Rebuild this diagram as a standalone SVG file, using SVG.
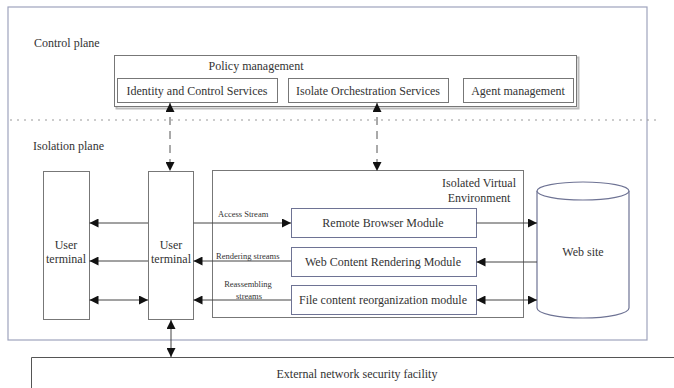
<svg xmlns="http://www.w3.org/2000/svg" width="674" height="388" viewBox="0 0 674 388">
<defs>
<marker id="ah" viewBox="0 0 10 10" refX="10" refY="5" markerWidth="10" markerHeight="9" markerUnits="userSpaceOnUse" orient="auto-start-reverse">
<path d="M0,0 L10,5 L0,10 Z" fill="#111"/>
</marker>
</defs>
<style>
text{font-family:"Liberation Serif","Times New Roman",serif;fill:#333;font-size:12px}
.sm{font-size:8.5px}
.c{text-anchor:middle}
.box{fill:#fff;stroke:#777;stroke-width:1}
.mod{fill:#fff;stroke:#6e7394;stroke-width:1}
.frame{fill:none;stroke:#9ea3bd;stroke-width:1.2}
.ln{fill:none;stroke:#444;stroke-width:1}
.dash{fill:none;stroke:#555;stroke-width:1;stroke-dasharray:8 6}
</style>
<rect width="674" height="388" fill="#fff"/>
<rect class="frame" x="8" y="7" width="639" height="333"/>
<line x1="10" y1="120" x2="656" y2="120" stroke="#999" stroke-width="1" stroke-dasharray="2 5"/>
<text x="34" y="47">Control plane</text>
<text x="33" y="150">Isolation plane</text>

<g id="policy">
<rect x="115.5" y="56.5" width="462" height="51" fill="none" stroke="#bbb" stroke-width="2" transform="translate(1,1)"/>
<rect class="box" x="114.5" y="55.5" width="462" height="51"/>
<text class="c" x="256" y="70">Policy management</text>
</g>
<g id="identity">
<rect class="box" x="117.5" y="78.5" width="160" height="24"/>
<text class="c" x="197" y="95">Identity and Control Services</text>
</g>
<g id="orchestration">
<rect class="box" x="288.5" y="78.5" width="160" height="24"/>
<text class="c" x="368" y="95">Isolate Orchestration Services</text>
</g>
<g id="agent">
<rect class="box" x="463.5" y="78.5" width="110" height="24"/>
<text class="c" x="518" y="95">Agent management</text>
</g>

<g id="terminal1">
<rect class="box" x="43.5" y="171.5" width="46" height="148"/>
<text class="c" x="66" y="249">User</text>
<text class="c" x="66" y="263">terminal</text>
</g>
<g id="terminal2">
<rect class="box" x="148.5" y="171.5" width="45" height="148"/>
<text class="c" x="171" y="249">User</text>
<text class="c" x="171" y="263">terminal</text>
</g>
<g id="ive">
<rect class="box" x="212.5" y="170.5" width="311" height="147"/>
<text class="c" x="479" y="187">Isolated Virtual</text>
<text class="c" x="479" y="202">Environment</text>
</g>
<g id="remote">
<rect class="mod" x="291.5" y="208.5" width="185" height="29"/>
<text class="c" x="383" y="227">Remote Browser Module</text>
</g>
<g id="rendering">
<rect class="mod" x="291.5" y="247.5" width="185" height="29"/>
<text class="c" x="383" y="266">Web Content Rendering Module</text>
</g>
<g id="file">
<rect class="mod" x="291.5" y="285.5" width="185" height="29"/>
<text class="c" x="383" y="304">File content reorganization module</text>
</g>
<g id="website">
<path d="M537,191 L537,308 A46,10 0 0 0 629,308 L629,191" fill="#fff" stroke="#6e7394" stroke-width="1.2"/>
<ellipse cx="583" cy="191" rx="46" ry="9" fill="#fff" stroke="#6e7394" stroke-width="1.2"/>
<text class="c" x="583" y="256">Web site</text>
</g>
<g id="external">
<path d="M31.5,388 L31.5,357.5 L674,357.5" fill="none" stroke="#555" stroke-width="1"/>
<text class="c" x="357" y="378">External network security facility</text>
</g>

<g id="connectors">
<line class="dash" x1="170" y1="103" x2="170" y2="171" marker-start="url(#ah)" marker-end="url(#ah)"/>
<line class="dash" x1="377" y1="103" x2="377" y2="171" marker-start="url(#ah)" marker-end="url(#ah)"/>
<line class="ln" x1="148" y1="223" x2="89.5" y2="223" marker-end="url(#ah)"/>
<line class="ln" x1="148" y1="261" x2="89.5" y2="261" marker-end="url(#ah)"/>
<line class="ln" x1="89.5" y1="300" x2="148" y2="300" marker-start="url(#ah)" marker-end="url(#ah)"/>
<line class="ln" x1="193.5" y1="223" x2="291" y2="223" marker-end="url(#ah)"/>
<line class="ln" x1="291" y1="261" x2="193.5" y2="261" marker-end="url(#ah)"/>
<line class="ln" x1="291" y1="300" x2="193.5" y2="300" marker-end="url(#ah)"/>
<line class="ln" x1="476.5" y1="223" x2="537" y2="223" marker-end="url(#ah)"/>
<line class="ln" x1="537" y1="262" x2="476.5" y2="262" marker-end="url(#ah)"/>
<line class="ln" x1="476.5" y1="300" x2="537" y2="300" marker-start="url(#ah)" marker-end="url(#ah)"/>
<line class="ln" x1="171" y1="320" x2="171" y2="357" marker-start="url(#ah)" marker-end="url(#ah)"/>
<text class="sm" x="218" y="217">Access Stream</text>
<text class="sm" x="216" y="259">Rendering streams</text>
<text class="sm c" x="248" y="287">Reassembling</text>
<text class="sm c" x="249" y="299">streams</text>
</g>
</svg>
